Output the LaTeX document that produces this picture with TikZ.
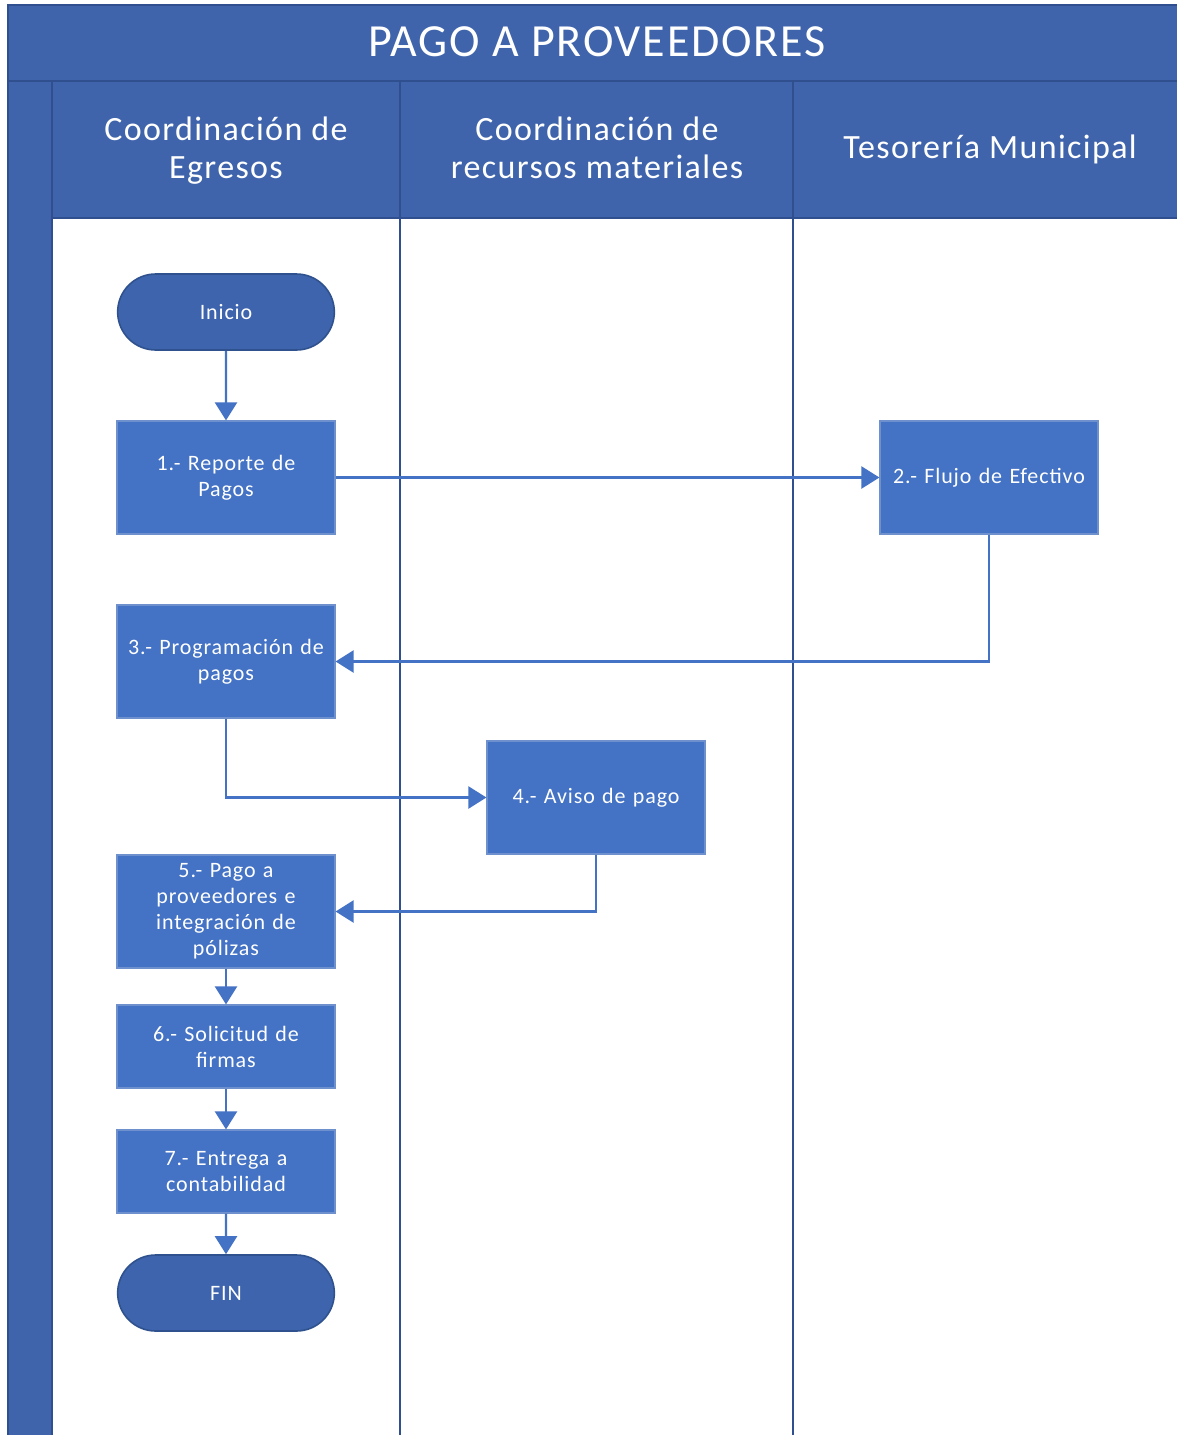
\documentclass[tikz,border=0pt]{standalone}
\usepackage{fontspec}
\setmainfont{Carlito}
\usetikzlibrary{arrows.meta,shapes.misc}
\definecolor{hdr}{RGB}{63,100,171}
\definecolor{hdrline}{RGB}{47,79,143}
\definecolor{boxfill}{RGB}{68,114,196}
\definecolor{boxline}{RGB}{110,145,205}
\definecolor{termfill}{RGB}{62,100,173}
\definecolor{termline}{RGB}{47,82,143}
\tikzset{
  hdrcell/.style={fill=hdr,draw=hdrline,line width=1pt},
  stepbox/.style={rectangle,fill=boxfill,draw=boxline,line width=0.6pt,minimum width=109pt,text width=106pt,align=center,text=white,font=\fontsize{11}{13}\selectfont\addfontfeature{LetterSpace=4},inner sep=1pt},
  termbox/.style={rounded rectangle,fill=termfill,draw=termline,line width=0.8pt,minimum width=115pt,minimum height=38pt,text=white,font=\fontsize{11}{13}\selectfont\addfontfeature{LetterSpace=4}},
  flow/.style={draw=boxfill,line width=1.2pt,-{Triangle[length=9pt,width=11pt]}},
  lanetxt/.style={text=white,font=\fontsize{17}{19}\selectfont\addfontfeature{LetterSpace=4},align=center}
}
\begin{document}
\begin{tikzpicture}[x=0.5pt,y=-0.5pt]
\useasboundingbox (0,0) rectangle (1177,1435);
% frame and title
\fill[white] (8,5) rectangle (1177,1435);
\draw[hdrcell] (8,5) rectangle (1180,81);
\node[text=white,font=\fontsize{23}{26}\selectfont\addfontfeature{LetterSpace=4}] (title) at (597,42) {PAGO A PROVEEDORES};
% left strip
\draw[hdrcell] (8,81) rectangle (52,1440);
% lane headers
\draw[hdrcell] (52,81) rectangle (400,218);
\draw[hdrcell] (400,81) rectangle (793,218);
\draw[hdrcell] (793,81) rectangle (1180,218);
\node[lanetxt] (lane1) at (226,151) {Coordinación de\\Egresos};
\node[lanetxt] (lane2) at (597,148) {Coordinación de\\recursos materiales};
\node[lanetxt] (lane3) at (990,149) {Tesorería Municipal};
% lane dividers
\draw[hdrline,line width=1pt] (400,218) -- (400,1440);
\draw[hdrline,line width=1pt] (793,218) -- (793,1440);
% nodes
\node[termbox] (ini) at (226,312) {Inicio};
\node[stepbox,minimum height=56.5pt] (s1) at (226,477.5) {1.- Reporte de\\Pagos};
\node[stepbox,minimum height=56.5pt] (s2) at (989,477.5) {2.- Flujo de Efectivo};
\node[stepbox,minimum height=56.5pt] (s3) at (226,661.5) {3.- Programación de\\pagos};
\node[stepbox,minimum height=56.5pt] (s4) at (596,797.5) {4.- Aviso de pago};
\node[stepbox,minimum height=56.5pt] (s5) at (226,911.5) {5.- Pago a\\proveedores e\\integración de\\pólizas};
\node[stepbox,minimum height=41.5pt] (s6) at (226,1046.5) {6.- Solicitud de\\firmas};
\node[stepbox,minimum height=41.5pt] (s7) at (226,1171.5) {7.- Entrega a\\contabilidad};
\node[termbox] (fin) at (226,1293) {FIN};
% connectors
\draw[flow] (ini) -- (s1);
\draw[flow] (s1) -- (s2);
\draw[flow] (s2.south) |- (s3.east);
\draw[flow] (s3.south) |- (s4.west);
\draw[flow] (s4.south) |- (s5.east);
\draw[flow] (s5) -- (s6);
\draw[flow] (s6) -- (s7);
\draw[flow] (s7) -- (fin);
\end{tikzpicture}
\end{document}
